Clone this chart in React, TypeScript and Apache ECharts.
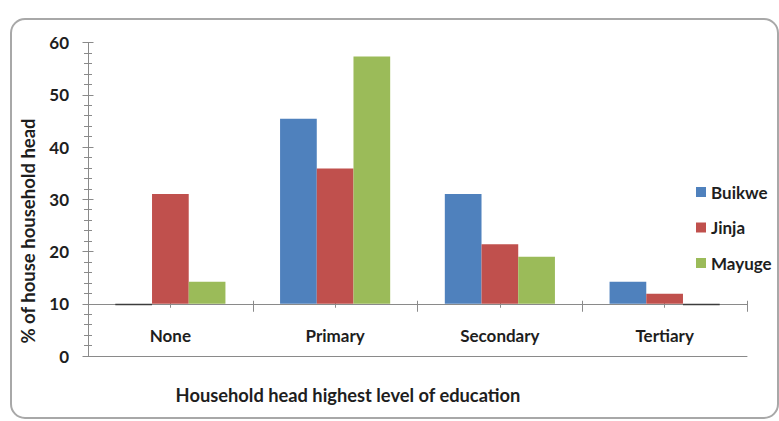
import React, { useEffect, useRef } from "react";
import * as echarts from "echarts";

// Education level of household heads, by district (% of household heads)
const categories = ["None", "Primary", "Secondary", "Tertiary"];
const seriesNames = ["Buikwe", "Jinja", "Mayuge"];
const buikwe = [9.7, 45.4, 31.0, 14.2];
const jinja = [31.0, 35.9, 21.4, 11.9];
const mayuge = [14.2, 57.3, 19.0, 9.7];
const colors = ["#4F81BD", "#C0504D", "#9BBB59"];

// the category axis crosses the value axis here, bars grow from it
const baseline = 10;
const yMin = 0;
const yMax = 60;
const yInterval = 10;

const FONT = "Lato, 'Open Sans', sans-serif";
const TEXT = "#1e1e1e";
const AXIS = "#8a8a8a";

const GRID = { left: 88, right: 32, top: 42.5, bottom: 65 };
const BAR_FRACTION = 0.2228;

export default function App() {
  const ref = useRef<HTMLDivElement>(null);

  useEffect(() => {
    if (!ref.current) return;
    const chart = echarts.init(ref.current, undefined, { renderer: "svg" });

    const plotH = 421 - GRID.top - GRID.bottom;
    const baseOffset = -(plotH * (baseline - yMin)) / (yMax - yMin);

    const allValues = [buikwe, jinja, mayuge];

    const series = allValues.map((vals, sIdx) => ({
      type: "custom",
      name: seriesNames[sIdx],
      itemStyle: { color: colors[sIdx] },
      xAxisIndex: 0,
      yAxisIndex: 0,
      data: vals.map((v, i) => [i, v]),
      renderItem: (params: any, api: any) => {
        const cat = api.value(0);
        const v = api.value(1);
        const band = api.size([1, 0])[0];
        const w = band * BAR_FRACTION;
        const base = api.coord([cat, baseline]);
        const top = api.coord([cat, v]);
        const x = base[0] - 1.5 * w + sIdx * w;
        const y = Math.min(base[1], top[1]);
        const h = Math.max(Math.abs(base[1] - top[1]), 1);
        return {
          type: "rect",
          shape: { x, y, width: w, height: h },
          style: { fill: v < baseline ? "#3c3c3c" : api.visual("color") },
        };
      },
    }));

    const hiddenCat = {
      type: "category" as const,
      data: categories,
      position: "bottom" as const,
      axisLine: { show: false },
      axisLabel: { show: false },
      splitLine: { show: false },
    };

    chart.setOption({
      animation: false,
      backgroundColor: "#ffffff",
      grid: GRID,
      legend: {
        data: seriesNames,
        orient: "vertical",
        left: 691,
        top: 178.5,
        icon: "rect",
        itemWidth: 10,
        itemHeight: 10,
        itemGap: 18.5,
        textStyle: {
          fontFamily: FONT,
          fontSize: 17,
          fontWeight: "bold",
          color: TEXT,
          lineHeight: 17,
          padding: [0, 0, 0, 0],
        },
      },
      xAxis: [
        {
          // main category axis, crossing at the baseline value
          type: "category",
          data: categories,
          position: "bottom",
          offset: baseOffset,
          axisLine: { show: true, onZero: false, lineStyle: { color: AXIS, width: 1 } },
          axisTick: { show: false },
          axisLabel: {
            margin: 23,
            fontFamily: FONT,
            fontSize: 17,
            fontWeight: "bold",
            color: TEXT,
          },
          splitLine: { show: false },
        },
        {
          // category boundary ticks
          ...hiddenCat,
          offset: baseOffset + 8,
          axisTick: { show: true, inside: true, length: 11, alignWithLabel: false, lineStyle: { color: AXIS } },
        },
        {
          // category centre ticks
          ...hiddenCat,
          offset: baseOffset + 4,
          axisTick: { show: true, inside: true, length: 8, alignWithLabel: true, lineStyle: { color: AXIS } },
        },
        {
          // line along value zero
          ...hiddenCat,
          offset: 0,
          axisLine: { show: true, onZero: false, lineStyle: { color: AXIS, width: 1 } },
          axisTick: { show: false },
        },
      ],
      yAxis: [
        {
          type: "value",
          min: yMin,
          max: yMax,
          interval: yInterval,
          position: "left",
          axisLine: { show: true, lineStyle: { color: AXIS } },
          axisTick: { show: false },
          axisLabel: {
            margin: 19,
            fontFamily: FONT,
            fontSize: 17,
            fontWeight: "bold",
            color: TEXT,
          },
          splitLine: { show: false },
        },
        {
          // major ticks crossing the axis line
          type: "value",
          min: yMin,
          max: yMax,
          interval: yInterval,
          position: "left",
          offset: 5.5,
          axisLine: { show: false },
          axisLabel: { show: false },
          axisTick: { show: true, inside: true, length: 11, lineStyle: { color: AXIS } },
          splitLine: { show: false },
        },
        {
          // minor ticks crossing the axis line
          type: "value",
          min: yMin,
          max: yMax,
          interval: yInterval,
          position: "left",
          offset: 4,
          axisLine: { show: false },
          axisLabel: { show: false },
          axisTick: { show: false, inside: true },
          minorTick: { show: true, splitNumber: 5, length: 8, lineStyle: { color: AXIS } },
          splitLine: { show: false },
        },
      ],
      graphic: [
        {
          type: "rect",
          shape: { x: 11, y: 19, width: 767, height: 399, r: 14 },
          style: { fill: "none", stroke: "#a8a8a8", lineWidth: 2 },
          silent: true,
        },
        {
          type: "text",
          x: 27.5,
          y: 231,
          rotation: Math.PI / 2,
          style: {
            text: "% of house household head",
            fontFamily: FONT,
            fontSize: 18.5,
            fontWeight: "bold",
            fill: TEXT,
            align: "center",
            verticalAlign: "middle",
          },
        },
        {
          type: "text",
          x: 348,
          y: 395,
          style: {
            text: "Household head highest level of education",
            fontFamily: FONT,
            fontSize: 18.3,
            fontWeight: "bold",
            fill: TEXT,
            align: "center",
            verticalAlign: "middle",
          },
        },
      ],
      series,
    });

    return () => chart.dispose();
  }, []);

  return (
    <div
      ref={ref}
      style={{ width: 779, height: 421, position: "absolute", left: 0, top: 0 }}
    />
  );
}
